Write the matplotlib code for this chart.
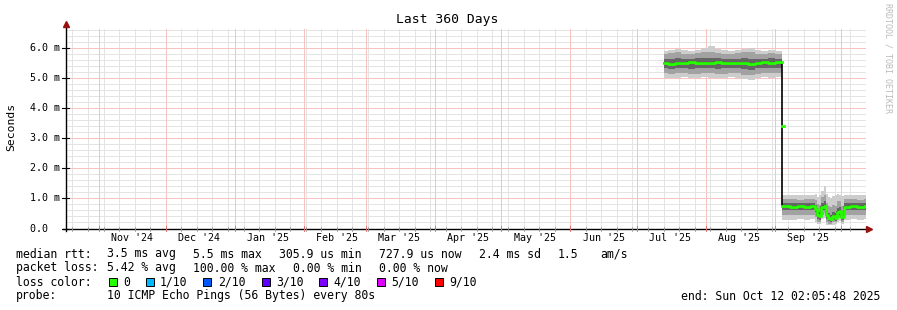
import pandas as pd
import matplotlib
matplotlib.use("Agg")
import matplotlib.pyplot as plt
import matplotlib.transforms as mtransforms
from matplotlib.patches import Rectangle

# time range of the graph
t_start = pd.Timestamp("2024-10-17 02:05:48")
t_end = pd.Timestamp("2025-10-12 02:05:48")

# first block of data (about 5.5 ms), step values
sec1_dates = ["2025-07-13", "2025-07-15", "2025-07-18", "2025-07-21", "2025-07-24",
              "2025-07-27", "2025-07-30", "2025-08-02", "2025-08-05", "2025-08-08",
              "2025-08-11", "2025-08-14", "2025-08-17", "2025-08-20", "2025-08-23",
              "2025-08-26", "2025-08-29", "2025-09-01", "2025-09-04 12:00"]
sec1_median = [5.50, 5.46, 5.50, 5.48, 5.51, 5.50, 5.49, 5.50, 5.51, 5.50,
               5.48, 5.50, 5.50, 5.46, 5.50, 5.51, 5.50, 5.52, 5.52]
sec1_max = [5.90, 5.92, 5.95, 5.92, 5.90, 5.93, 5.98, 6.05, 5.95, 5.92,
            5.90, 5.93, 5.96, 5.98, 5.92, 5.90, 5.93, 5.88, 5.88]
sec1_min = [5.00, 4.98, 5.00, 5.02, 4.98, 5.00, 5.02, 5.00, 4.98, 5.00,
            5.02, 5.00, 4.96, 4.92, 5.00, 5.02, 5.00, 5.02, 5.02]
sec1_mid_hi = [5.80, 5.82, 5.84, 5.80, 5.79, 5.82, 5.85, 5.86, 5.83, 5.80,
               5.79, 5.82, 5.84, 5.85, 5.80, 5.79, 5.82, 5.78, 5.78]
sec1_mid_lo = [5.15, 5.12, 5.15, 5.16, 5.12, 5.14, 5.16, 5.15, 5.12, 5.14,
               5.16, 5.15, 5.10, 5.08, 5.14, 5.16, 5.15, 5.16, 5.16]
sec1_in_hi = [5.64, 5.62, 5.66, 5.64, 5.63, 5.65, 5.66, 5.67, 5.65, 5.64,
              5.62, 5.64, 5.66, 5.64, 5.64, 5.63, 5.65, 5.64, 5.64]
sec1_in_lo = [5.32, 5.30, 5.33, 5.32, 5.30, 5.32, 5.33, 5.32, 5.30, 5.32,
              5.33, 5.32, 5.28, 5.26, 5.32, 5.33, 5.32, 5.34, 5.34]

# single transition sample between the two blocks
trans_date = "2025-09-04 12:00"
trans_value = 3.4

# second block of data (about 0.7 ms)
sec2_dates = ["2025-09-04 12:00", "2025-09-08", "2025-09-11", "2025-09-14", "2025-09-17",
              "2025-09-19", "2025-09-20", "2025-09-21", "2025-09-22", "2025-09-23",
              "2025-09-24", "2025-09-25", "2025-09-26", "2025-09-27", "2025-09-28",
              "2025-09-29", "2025-09-30", "2025-10-01", "2025-10-02", "2025-10-05",
              "2025-10-08", "2025-10-11", "2025-10-12 02:05:48"]
sec2_median = [0.74, 0.72, 0.73, 0.72, 0.74, 0.66, 0.45, 0.40, 0.72, 0.75,
               0.45, 0.35, 0.30, 0.40, 0.36, 0.55, 0.58, 0.38, 0.72, 0.74,
               0.72, 0.73, 0.73]
sec2_max = [1.10, 1.12, 1.10, 1.12, 1.10, 1.15, 1.05, 1.10, 1.25, 1.40,
            1.15, 1.05, 1.00, 1.08, 1.10, 1.15, 1.12, 1.08, 1.10, 1.12,
            1.10, 1.12, 1.12]
sec2_min = [0.28, 0.28, 0.30, 0.28, 0.30, 0.22, 0.15, 0.15, 0.30, 0.35,
            0.12, 0.10, 0.10, 0.12, 0.15, 0.20, 0.25, 0.15, 0.28, 0.30,
            0.28, 0.30, 0.30]
sec2_mid_hi = [0.97, 0.98, 0.96, 0.98, 0.97, 0.95, 0.80, 0.78, 1.05, 1.12,
               0.85, 0.75, 0.70, 0.78, 0.76, 0.90, 0.92, 0.75, 0.97, 0.98,
               0.96, 0.98, 0.98]
sec2_mid_lo = [0.45, 0.44, 0.46, 0.44, 0.46, 0.38, 0.22, 0.20, 0.45, 0.50,
               0.22, 0.16, 0.14, 0.20, 0.20, 0.32, 0.36, 0.20, 0.45, 0.46,
               0.44, 0.46, 0.46]
sec2_in_hi = [0.84, 0.83, 0.84, 0.83, 0.85, 0.78, 0.58, 0.55, 0.85, 0.90,
              0.60, 0.50, 0.45, 0.55, 0.50, 0.68, 0.72, 0.52, 0.84, 0.85,
              0.83, 0.84, 0.84]
sec2_in_lo = [0.62, 0.60, 0.62, 0.60, 0.62, 0.54, 0.32, 0.28, 0.60, 0.62,
              0.32, 0.24, 0.20, 0.28, 0.26, 0.42, 0.46, 0.28, 0.60, 0.62,
              0.60, 0.62, 0.62]

y_ticks = [0, 1, 2, 3, 4, 5, 6]
y_labels = ["0.0  ", "1.0 m", "2.0 m", "3.0 m", "4.0 m", "5.0 m", "6.0 m"]

loss_labels = ["0", "1/10", "2/10", "3/10", "4/10", "5/10", "9/10"]
loss_colors = ["#26ff00", "#00b8ff", "#0059ff", "#5e00ff", "#7e00ff", "#dd00ff", "#ff0000"]

smoke_colors = ["#cdcdcd", "#a2a2a2", "#666666"]
MONO = "DejaVu Sans Mono"

W, H = 897, 310
fig = plt.figure(figsize=(W / 100, H / 100), dpi=100)
fig.patch.set_facecolor("white")
ax = fig.add_axes((66 / W, (H - 228.5) / H, 800 / W, 200 / H))
ax.set_xlim(t_start, t_end)
ax.set_ylim(0, 200 / 30.14)
for s in ax.spines.values():
    s.set_visible(False)

# grid: weekly / 0.2 ms minor, monthly / 1 ms major (thin solid, light colours)
weeks = pd.date_range(t_start.normalize(), t_end, freq="W-SUN")
months = pd.date_range(t_start.normalize(), t_end, freq="MS")
minor_kw = dict(color="#e4e4e4", lw=0.72, zorder=0, snap=True)
major_kw = dict(color="#f6c2c2", lw=0.72, zorder=0.5, snap=True)
for d in weeks:
    ax.axvline(d, **minor_kw)
for v in [i * 0.2 for i in range(1, 34)]:
    ax.axhline(v, **minor_kw)
for d in months:
    ax.axvline(d, **major_kw)
for v in y_ticks[1:]:
    ax.axhline(v, **major_kw)

# smoke
d1 = pd.to_datetime(sec1_dates, format="mixed")
d2 = pd.to_datetime(sec2_dates, format="mixed")
for d, lo, hi, c in [(d1, sec1_min, sec1_max, smoke_colors[0]),
                     (d1, sec1_mid_lo, sec1_mid_hi, smoke_colors[1]),
                     (d1, sec1_in_lo, sec1_in_hi, smoke_colors[2]),
                     (d2, sec2_min, sec2_max, smoke_colors[0]),
                     (d2, sec2_mid_lo, sec2_mid_hi, smoke_colors[1]),
                     (d2, sec2_in_lo, sec2_in_hi, smoke_colors[2])]:
    ax.fill_between(d, lo, hi, step="post", color=c, lw=0, zorder=1)

# median: black joining line, then green per block
all_dates = list(d1) + list(d2)
all_median = sec1_median + sec2_median
ax.plot(all_dates, all_median, drawstyle="steps-post", color="black", lw=1.2, zorder=2)
ax.plot(d1, sec1_median, drawstyle="steps-post", color=loss_colors[0], lw=2, zorder=3)
ax.plot(d2, sec2_median, drawstyle="steps-post", color=loss_colors[0], lw=2, zorder=3)
td = pd.Timestamp(trans_date)
ax.plot([td, td + pd.Timedelta(hours=14)], [trans_value, trans_value], color=loss_colors[0], lw=2, zorder=3)

# axes lines with arrows
ax.plot([-0.004, 1.003], [0, 0], transform=ax.transAxes, color="black", lw=1, clip_on=False, zorder=4)
ax.plot([0, 0], [-0.01, 1.02], transform=ax.transAxes, color="black", lw=1, clip_on=False, zorder=4)
ax.plot([1.004], [0], transform=ax.transAxes, marker=">", ms=4, color="#9a1010", clip_on=False, zorder=5)
ax.plot([0], [1.025], transform=ax.transAxes, marker="^", ms=4, color="#9a1010", clip_on=False, zorder=5)

# small tick marks along the axes
bt = mtransforms.blended_transform_factory(ax.transData, ax.transAxes)
for d in weeks:
    ax.plot([d, d], [-0.01, 0.01], transform=bt, color="#999999", lw=0.6, clip_on=False, zorder=4)
for d in months:
    ax.plot([d, d], [-0.012, 0.012], transform=bt, color="#e07070", lw=0.7, clip_on=False, zorder=4)
lt = mtransforms.blended_transform_factory(ax.transAxes, ax.transData)
for v in y_ticks:
    ax.plot([-0.005, 0.004], [v, v], transform=lt, color="black", lw=0.8, clip_on=False, zorder=4)

ax.set_xticks([])
ax.set_yticks([])

# tick labels
for v, lab in zip(y_ticks, y_labels):
    ax.text((30 - 66) / 800, v, lab, transform=lt, ha="left", va="center",
            family=MONO, fontsize=7.2, color="black")
for m in months:
    mid = m + pd.Timedelta(days=15)
    if t_start < mid < t_end:
        ax.text(mid, (228.5 - 237.7) / 200, m.strftime("%b '%y"), transform=bt,
                ha="center", va="center", family=MONO, fontsize=7.2)

fig.text(447 / W, 1 - 20 / H, "Last 360 Days", ha="center", va="center", family=MONO, fontsize=9.4)
fig.text(11 / W, 1 - 127 / H, "Seconds", rotation=90, ha="center", va="center", family=MONO, fontsize=8.2)
fig.text(888 / W, 1 - 58 / H, "RRDTOOL / TOBI OETIKER", rotation=270, ha="center", va="center",
         family=MONO, fontsize=6, color="#bbbbbb")

# legend rows
def row(y, items):
    for x, s in items:
        fig.text(x / W, 1 - y / H, s, ha="left", va="center", family=MONO, fontsize=8.3)

row(254, [(16, "median rtt:"), (107, "3.5 ms avg"), (193, "5.5 ms max"), (279, "305.9 us min"),
          (379, "727.9 us now"), (479, "2.4 ms sd"), (558, "1.5"), (600, "am/s")])
row(268, [(16, "packet loss:"), (107, "5.42 % avg"), (193, "100.00 % max"), (293, "0.00 % min"),
          (379, "0.00 % now")])
row(282, [(16, "loss color:")])
box_x = [109, 146, 203, 262, 319, 377, 435]
lab_x = [123, 160, 218, 276, 333, 391, 449]
for bx, lx, lab, c in zip(box_x, lab_x, loss_labels, loss_colors):
    fig.patches.append(Rectangle((bx / W, 1 - 286 / H), 8 / W, 8 / H, transform=fig.transFigure,
                                 facecolor=c, edgecolor="black", lw=0.7))
    row(282, [(lx, lab)])
row(296, [(16, "probe:"), (107, "10 ICMP Echo Pings (56 Bytes) every 80s")])
fig.text(880 / W, 1 - 296 / H, "end: Sun Oct 12 02:05:48 2025", ha="right", va="center",
         family=MONO, fontsize=8.3)

fig.savefig("out.png", dpi=100)
